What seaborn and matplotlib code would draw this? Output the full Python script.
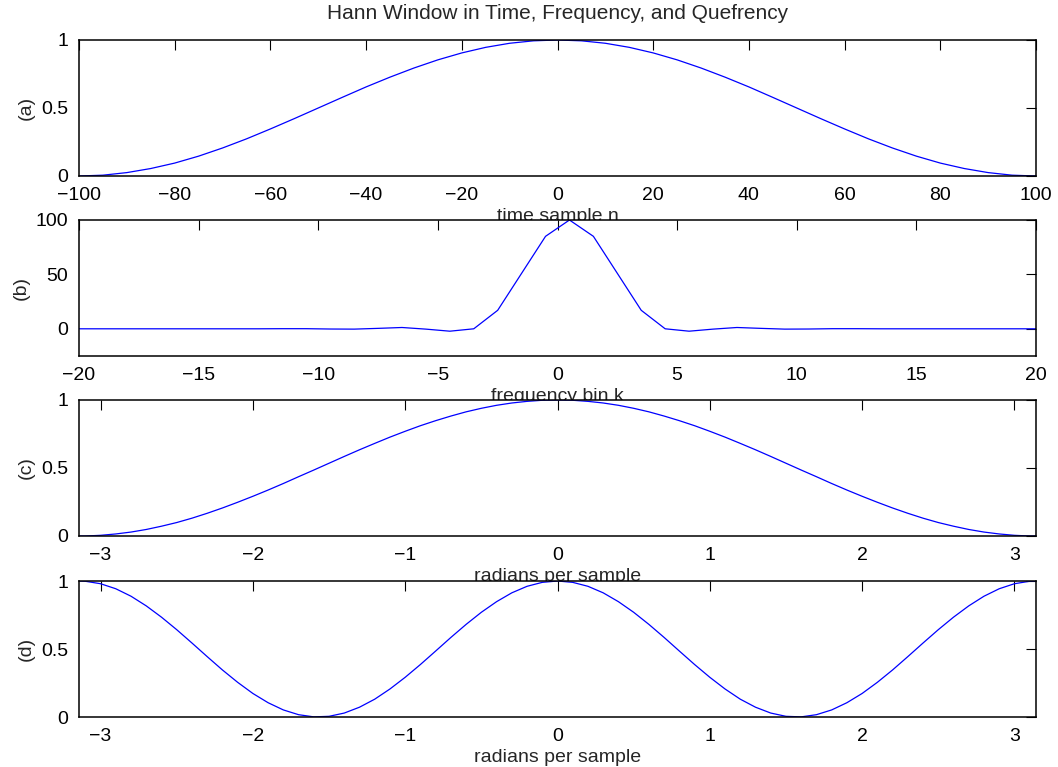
import numpy as np
import pandas as pd
import matplotlib
matplotlib.use("Agg")
import matplotlib.pyplot as plt
import seaborn as sns

# (a) Hann window over time samples
time_n = list(range(-100, 101, 5))
hann_time = [0.000, 0.006, 0.025, 0.055, 0.095, 0.146, 0.206, 0.273, 0.346, 0.422,
             0.500, 0.578, 0.655, 0.727, 0.794, 0.854, 0.905, 0.946, 0.976, 0.994,
             1.000,
             0.994, 0.976, 0.946, 0.905, 0.854, 0.794, 0.727, 0.655, 0.578, 0.500,
             0.422, 0.346, 0.273, 0.206, 0.146, 0.095, 0.055, 0.025, 0.006, 0.000]

# (b) magnitude spectrum on half-integer frequency bins (-20.5 ... 20.5)
freq_k = [k + 0.5 for k in range(-21, 21)]
hann_freq = [0.0, 0.0, 0.0, 0.0, 0.0, 0.0, 0.0, 0.0,
             0.0, 0.1, 0.1, -0.2, -0.3, 0.4, 1.2, -0.3, -2.2, 0.0,
             17.0, 51.0, 85.0, 100.0, 85.0, 51.0, 17.0,
             0.0, -2.2, -0.3, 1.2, 0.4, -0.3, -0.2, 0.1, 0.1, 0.0,
             0.0, 0.0, 0.0, 0.0, 0.0, 0.0, 0.0]

# shared radian grid for (c) and (d)
omega = [-3.14, -3.1, -3.0, -2.9, -2.8, -2.7, -2.6, -2.5, -2.4, -2.3, -2.2, -2.1,
         -2.0, -1.9, -1.8, -1.7, -1.6, -1.5, -1.4, -1.3, -1.2, -1.1, -1.0, -0.9,
         -0.8, -0.7, -0.6, -0.5, -0.4, -0.3, -0.2, -0.1, 0.0, 0.1, 0.2, 0.3, 0.4,
         0.5, 0.6, 0.7, 0.8, 0.9, 1.0, 1.1, 1.2, 1.3, 1.4, 1.5, 1.6, 1.7, 1.8,
         1.9, 2.0, 2.1, 2.2, 2.3, 2.4, 2.5, 2.6, 2.7, 2.8, 2.9, 3.0, 3.1, 3.14]

# (c) window response over normalized frequency
hann_omega = [0.000, 0.000, 0.005, 0.015, 0.029, 0.048, 0.072, 0.099, 0.131, 0.167,
              0.206, 0.248, 0.292, 0.338, 0.386, 0.436, 0.485, 0.535, 0.585, 0.634,
              0.681, 0.727, 0.770, 0.811, 0.848, 0.882, 0.913, 0.939, 0.961, 0.978,
              0.990, 0.998,
              1.000,
              0.998, 0.990, 0.978, 0.961, 0.939, 0.913, 0.882, 0.848, 0.811, 0.770,
              0.727, 0.681, 0.634, 0.585, 0.535, 0.485, 0.436, 0.386, 0.338, 0.292,
              0.248, 0.206, 0.167, 0.131, 0.099, 0.072, 0.048, 0.029, 0.015, 0.005,
              0.000, 0.000]

# (d) quefrency-domain curve
hann_quef = [1.000, 0.998, 0.980, 0.943, 0.888, 0.817, 0.734, 0.642, 0.544, 0.444,
             0.346, 0.255, 0.173, 0.105, 0.052, 0.017, 0.001, 0.005, 0.029, 0.072,
             0.131, 0.206, 0.292, 0.386, 0.485, 0.585, 0.681, 0.770, 0.848, 0.913,
             0.961, 0.990, 1.000, 0.990, 0.961, 0.913, 0.848, 0.770, 0.681, 0.585,
             0.485, 0.386, 0.292, 0.206, 0.131, 0.072, 0.029, 0.005, 0.001, 0.017,
             0.052, 0.105, 0.173, 0.255, 0.346, 0.444, 0.544, 0.642, 0.734, 0.817,
             0.888, 0.943, 0.980, 0.998, 1.000]

title = "Hann Window in Time, Frequency, and Quefrency"

sns.set_theme(style="white")
plt.rcParams["font.family"] = ["Liberation Sans", "DejaVu Sans"]
plt.rcParams["axes.unicode_minus"] = True

fig = plt.figure(figsize=(10.58, 7.67), dpi=100)

left, width, height = 79 / 1058, 957 / 1058, 136 / 767
bottoms_px = [176, 356, 536, 717]

panels = [
    dict(x=time_n, y=hann_time, xlim=(-100, 100), ylim=(0, 1),
         xticks=list(range(-100, 101, 20)), yticks=[0, 0.5, 1],
         ylabel="(a)", xlabel="time sample n"),
    dict(x=freq_k, y=hann_freq, xlim=(-20, 20), ylim=(-25, 100),
         xticks=list(range(-20, 21, 5)), yticks=[0, 50, 100],
         ylabel="(b)", xlabel="frequency bin k"),
    dict(x=omega, y=hann_omega, xlim=(-np.pi, np.pi), ylim=(0, 1),
         xticks=[-3, -2, -1, 0, 1, 2, 3], yticks=[0, 0.5, 1],
         ylabel="(c)", xlabel="radians per sample"),
    dict(x=omega, y=hann_quef, xlim=(-np.pi, np.pi), ylim=(0, 1),
         xticks=[-3, -2, -1, 0, 1, 2, 3], yticks=[0, 0.5, 1],
         ylabel="(d)", xlabel="radians per sample"),
]

fs = 14
for i, (p, bpx) in enumerate(zip(panels, bottoms_px)):
    ax = fig.add_axes([left, 1 - bpx / 767, width, height])
    df = pd.DataFrame({"x": p["x"], "y": p["y"]})
    sns.lineplot(data=df, x="x", y="y", ax=ax, color="#0000ff",
                 linewidth=0.9, sort=False)
    ax.set_xlim(*p["xlim"])
    ax.set_ylim(*p["ylim"])
    ax.set_xticks(p["xticks"])
    ax.set_yticks(p["yticks"])
    ax.set_yticklabels([f"{v:g}" for v in p["yticks"]])
    ax.set_xticklabels([f"{v:g}".replace("-", "\u2212") for v in p["xticks"]])
    ax.tick_params(direction="in", length=7, width=0.8, top=True, right=True,
                   labelsize=fs, colors="black", pad=8)
    for s in ax.spines.values():
        s.set_visible(True)
        s.set_color("black")
        s.set_linewidth(1.1)
    ax.set_ylabel(p["ylabel"], fontsize=fs, labelpad=4)
    ax.set_xlabel(p["xlabel"], fontsize=fs, labelpad=3)
    if i == 0:
        ax.set_title(title, fontsize=15, pad=15)

fig.savefig("out.png", dpi=100)
